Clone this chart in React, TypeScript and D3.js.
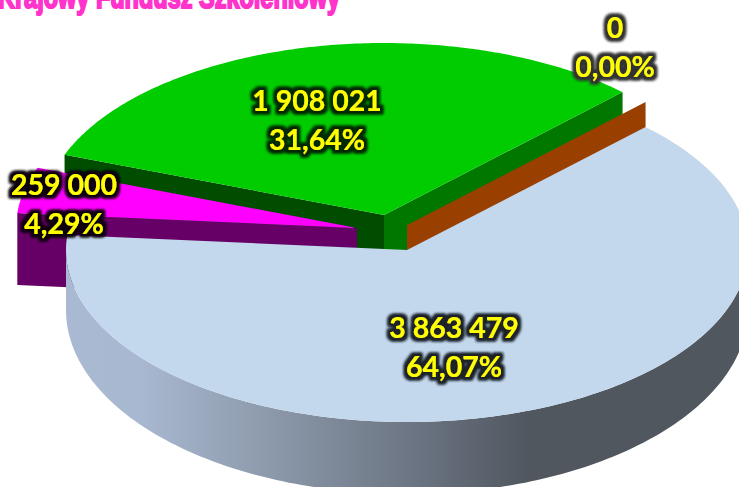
import React from "react";
import * as d3 from "d3";

const categories = ["Budżet", "Rezerwa", "Krajowy Fundusz Szkoleniowy", "Inne"];
const values = [3863479, 259000, 1908021, 0];
const valueLabels = ["3 863 479", "259 000", "1 908 021", "0"];
const percentLabels = ["64,07%", "4,29%", "31,64%", "0,00%"];
const topColors = ["#c3d7ed", "#ff00ff", "#00cc00", "#993f00"];
const title = "Krajowy Fundusz Szkoleniowy";

// layout
const W = 739, H = 487;
const CX = 407, CY = 250, RX = 341, RY = 172, DEPTH = 72;
const BASE_CY = 310, BASE_RY = 184;
const START = (44.4 * Math.PI) / 180;
const offsets: [number, number][] = [[0, 0], [-50, -22], [-23, -35], [0, -25]];
const labelPos: [number, number][] = [[454, 327], [64, 184], [317, 100], [615, 27]];
const LINE_GAP = 39;
const glowIds = ["glowBlue", "glowPurple", "glowGreen", "glowGrey"];
const glowColors = ["#1c2228", "#0c000c", "#062b00", "#333333"];
const sideStops: [number, string][] = [
  [66, "#a8b9d1"], [140, "#a8b8d0"], [260, "#8f9cae"], [330, "#7e8a9a"],
  [450, "#636b78"], [530, "#50575f"], [739, "#50575f"],
];

const x = d3.scaleLinear().domain([-1, 1]).range([CX - RX, CX + RX]);
const y = d3.scaleLinear().domain([-1, 1]).range([CY - RY, CY + RY]);
const yBase = d3.scaleLinear().domain([-1, 1]).range([BASE_CY - BASE_RY, BASE_CY + BASE_RY]);
const stopScale = d3.scaleLinear().domain([66, 739]).range([0, 1]);
const pie = d3.pie<number>().sort(null).startAngle(START).endAngle(START + 2 * Math.PI);
const slices = pie(values);
const line = d3.line<[number, number]>().x((d) => d[0]).y((d) => d[1]);

function pt(a: number, i: number, dy = 0): [number, number] {
  return [x(Math.sin(a)) + offsets[i][0], y(-Math.cos(a)) + offsets[i][1] + dy];
}
function apex(i: number, dy = 0): [number, number] {
  return [x(0) + offsets[i][0], y(0) + offsets[i][1] + dy];
}
function arcAngles(a0: number, a1: number) {
  const n = 160;
  return d3.range(n + 1).map((k) => a0 + ((a1 - a0) * k) / n);
}
function sector(i: number) {
  const s = slices[i];
  return line([apex(i), ...arcAngles(s.startAngle, s.endAngle).map((a) => pt(a, i))]) + "Z";
}
function wall(i: number, a: number) {
  return line([apex(i), pt(a, i), pt(a, i, DEPTH), apex(i, DEPTH)]) + "Z";
}
const blueWall =
  line([
    ...arcAngles(Math.PI / 2, (3 * Math.PI) / 2).map((a) => pt(a, 0)),
    ...arcAngles((3 * Math.PI) / 2, Math.PI / 2).map((a): [number, number] => [x(Math.sin(a)), yBase(-Math.cos(a))]),
  ]) + "Z";

function Glow({ id, color }: { id: string; color: string }) {
  return (
    <filter id={id} x="-25%" y="-40%" width="150%" height="180%">
      <feMorphology in="SourceAlpha" operator="dilate" radius="2.6" result="d" />
      <feGaussianBlur in="d" stdDeviation="1.8" result="b" />
      <feFlood floodColor={color} result="c" />
      <feComposite in="c" in2="b" operator="in" result="g" />
      <feMerge>
        <feMergeNode in="g" />
        <feMergeNode in="g" />
        <feMergeNode in="SourceGraphic" />
      </feMerge>
    </filter>
  );
}

export default function App() {
  const [blue, purple, green, zero] = [0, 1, 2, 3];
  return (
    <svg width={W} height={H} viewBox={`0 0 ${W} ${H}`} style={{ position: "fixed", left: 0, top: 0, background: "#fff" }}>
      <defs>
        <linearGradient id="side" gradientUnits="userSpaceOnUse" x1={66} x2={739} y1={0} y2={0}>
          {sideStops.map(([p, c]) => <stop key={p} offset={stopScale(p)} stopColor={c} />)}
        </linearGradient>
        {glowIds.map((id, i) => <Glow key={id} id={id} color={glowColors[i]} />)}
      </defs>
      <text x={-2} y={8} fontFamily="'Liberation Sans Narrow','Liberation Sans'" fontWeight={700} fontSize={31}
        fill="#ff33cc" stroke="#ff33cc" strokeWidth={2} textLength={342} lengthAdjust="spacingAndGlyphs">{title}</text>

      <path d={wall(green, slices[green].startAngle)} fill="#004d00" />
      <path d={wall(green, slices[green].endAngle)} fill="#007800" />
      <path d={sector(green)} fill={topColors[green]} />

      <path d={wall(purple, slices[purple].startAngle)} fill="#660066" />
      <path d={sector(purple)} fill={topColors[purple]} />

      <path d={wall(zero, slices[zero].startAngle)} fill={topColors[zero]} />

      <path d={blueWall} fill="url(#side)" />
      <path d={sector(blue)} fill={topColors[blue]} />

      {categories.map((c, i) => (
        <g key={c} filter={`url(#${glowIds[i]})`} fontFamily="Lato,'Open Sans'" fontWeight={700} fontSize={28.5} fill="#ffff00" textAnchor="middle">
          <text x={labelPos[i][0]} y={labelPos[i][1]} dominantBaseline="central">{valueLabels[i]}</text>
          <text x={labelPos[i][0]} y={labelPos[i][1] + LINE_GAP} dominantBaseline="central">{percentLabels[i]}</text>
        </g>
      ))}
    </svg>
  );
}
